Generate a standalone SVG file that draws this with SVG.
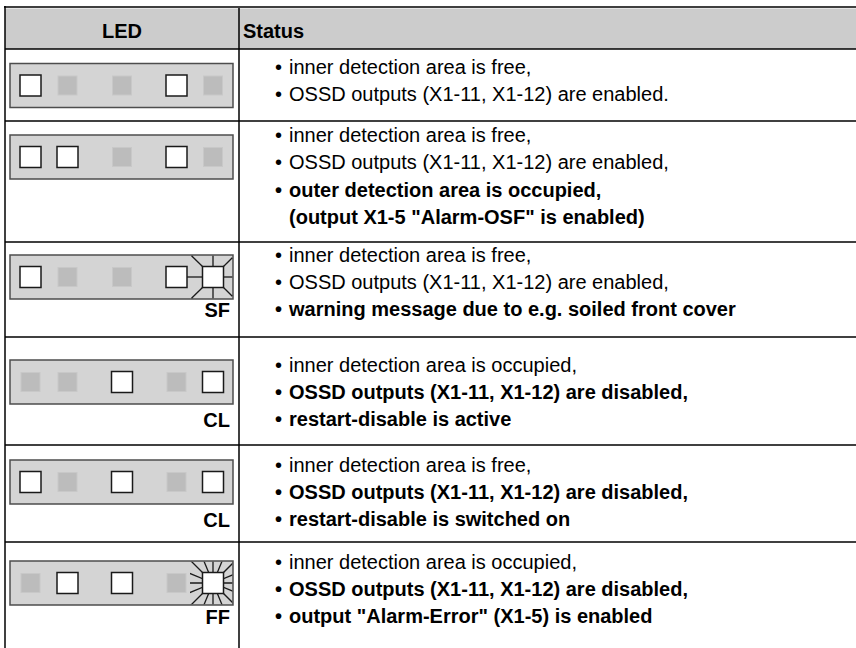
<svg xmlns="http://www.w3.org/2000/svg" xmlns:xlink="http://www.w3.org/1999/xlink" width="856" height="648" viewBox="0 0 856 648">
<style>
.t{font-family:"Liberation Sans",Arial,Helvetica,sans-serif;font-size:20px;fill:#000}
.b{font-weight:bold}
.h{font-family:"Liberation Sans",Arial,Helvetica,sans-serif;font-size:20px;font-weight:bold;fill:#000}
.lbl{font-family:"Liberation Sans",Arial,Helvetica,sans-serif;font-size:20px;font-weight:bold;fill:#000;text-anchor:end}
.bar{fill:#d4d4d4;stroke:#4d4d4d;stroke-width:1.5}
.on{fill:#fff;stroke:#1a1a1a;stroke-width:1.5}
.off{fill:#bcbcbc;stroke:#c8c8c8;stroke-width:1}
.ray{stroke:#1a1a1a;stroke-width:1.3;fill:none}
.grid{stroke:#000;stroke-width:1.5;fill:none}
</style>
<defs>
<rect id="on" x="-10.5" y="-10.5" width="21" height="21" class="on"/>
<rect id="off" x="-9.5" y="-9.5" width="19" height="19" class="off"/>
<clipPath id="ffclip" clipPathUnits="userSpaceOnUse"><rect x="-23" y="-21.3" width="42.3" height="42.6"/></clipPath>
</defs>

<g id="table">
<rect x="5" y="8.5" width="851" height="40.5" fill="#cccccc"/>
<line class="grid" x1="4" y1="7" x2="856" y2="7" stroke-width="3"/>
<line class="grid" x1="5" y1="6" x2="5" y2="648" stroke-width="2"/>
<line class="grid" x1="239" y1="8" x2="239" y2="648"/>
<line class="grid" x1="5" y1="49" x2="856" y2="49"/>
<line class="grid" x1="5" y1="121" x2="856" y2="121"/>
<line class="grid" x1="5" y1="242" x2="856" y2="242"/>
<line class="grid" x1="5" y1="337" x2="856" y2="337"/>
<line class="grid" x1="5" y1="445" x2="856" y2="445"/>
<line class="grid" x1="5" y1="542" x2="856" y2="542"/>
<text class="h" x="122" y="38" text-anchor="middle">LED</text>
<text class="h" x="243" y="38">Status</text>
</g>

<g id="row1">
<rect class="bar" x="10" y="63.5" width="223" height="44"/>
<use xlink:href="#on" x="30.5" y="85.5"/><use xlink:href="#off" x="67.5" y="85.5"/><use xlink:href="#off" x="122" y="85.5"/><use xlink:href="#on" x="176.5" y="85.5"/><use xlink:href="#off" x="213" y="85.5"/>
<text class="t" y="74"><tspan x="275">•</tspan><tspan x="289">inner detection area is free,</tspan></text>
<text class="t" y="101"><tspan x="275">•</tspan><tspan x="289">OSSD outputs (X1-11, X1-12) are enabled.</tspan></text>
</g>

<g id="row2">
<rect class="bar" x="10" y="135" width="223" height="44"/>
<use xlink:href="#on" x="30.5" y="157"/><use xlink:href="#on" x="67.5" y="157"/><use xlink:href="#off" x="122" y="157"/><use xlink:href="#on" x="176.5" y="157"/><use xlink:href="#off" x="213" y="157"/>
<text class="t" y="142"><tspan x="275">•</tspan><tspan x="289">inner detection area is free,</tspan></text>
<text class="t" y="169"><tspan x="275">•</tspan><tspan x="289">OSSD outputs (X1-11, X1-12) are enabled,</tspan></text>
<text class="t b" y="197"><tspan x="275">•</tspan><tspan x="289">outer detection area is occupied,</tspan></text>
<text class="t b" y="224" x="289">(output X1-5 "Alarm-OSF" is enabled)</text>
</g>

<g id="row3">
<rect class="bar" x="10" y="255" width="223" height="44"/>
<g class="ray">
<line x1="187" y1="277" x2="203" y2="277"/>
<line x1="223" y1="277" x2="232.3" y2="277"/>
<line x1="213" y1="255.7" x2="213" y2="267"/>
<line x1="213" y1="287" x2="213" y2="298.3"/>
<line x1="202.5" y1="266.5" x2="191.5" y2="255.7"/>
<line x1="223.5" y1="266.5" x2="232.3" y2="257.7"/>
<line x1="202.5" y1="287.5" x2="191.5" y2="298.3"/>
<line x1="223.5" y1="287.5" x2="232.3" y2="296.3"/>
</g>
<use xlink:href="#on" x="30.5" y="277"/><use xlink:href="#off" x="67.5" y="277"/><use xlink:href="#off" x="122" y="277"/><use xlink:href="#on" x="176.5" y="277"/><use xlink:href="#on" x="213" y="277"/>
<text class="lbl" x="230" y="317">SF</text>
<text class="t" y="262"><tspan x="275">•</tspan><tspan x="289">inner detection area is free,</tspan></text>
<text class="t" y="289"><tspan x="275">•</tspan><tspan x="289">OSSD outputs (X1-11, X1-12) are enabled,</tspan></text>
<text class="t b" y="316"><tspan x="275">•</tspan><tspan x="289">warning message due to e.g. soiled front cover</tspan></text>
</g>

<g id="row4">
<rect class="bar" x="10" y="360" width="223" height="44"/>
<use xlink:href="#off" x="30.5" y="382"/><use xlink:href="#off" x="67.5" y="382"/><use xlink:href="#on" x="122" y="382"/><use xlink:href="#off" x="176.5" y="382"/><use xlink:href="#on" x="213" y="382"/>
<text class="lbl" x="230" y="427">CL</text>
<text class="t" y="372"><tspan x="275">•</tspan><tspan x="289">inner detection area is occupied,</tspan></text>
<text class="t b" y="399"><tspan x="275">•</tspan><tspan x="289">OSSD outputs (X1-11, X1-12) are disabled,</tspan></text>
<text class="t b" y="426"><tspan x="275">•</tspan><tspan x="289">restart-disable is active</tspan></text>
</g>

<g id="row5">
<rect class="bar" x="10" y="460" width="223" height="44"/>
<use xlink:href="#on" x="30.5" y="482"/><use xlink:href="#off" x="67.5" y="482"/><use xlink:href="#on" x="122" y="482"/><use xlink:href="#off" x="176.5" y="482"/><use xlink:href="#on" x="213" y="482"/>
<text class="lbl" x="230" y="527">CL</text>
<text class="t" y="472"><tspan x="275">•</tspan><tspan x="289">inner detection area is free,</tspan></text>
<text class="t b" y="499"><tspan x="275">•</tspan><tspan x="289">OSSD outputs (X1-11, X1-12) are disabled,</tspan></text>
<text class="t b" y="526"><tspan x="275">•</tspan><tspan x="289">restart-disable is switched on</tspan></text>
</g>

<g id="row6">
<rect class="bar" x="10" y="561" width="223" height="44"/>
<g class="ray" transform="translate(213 583)" clip-path="url(#ffclip)">
<line x1="0" y1="0" x2="40" y2="0"/><line x1="0" y1="0" x2="36.96" y2="15.31"/><line x1="0" y1="0" x2="28.28" y2="28.28"/><line x1="0" y1="0" x2="15.31" y2="36.96"/>
<line x1="0" y1="0" x2="0" y2="40"/><line x1="0" y1="0" x2="-15.31" y2="36.96"/><line x1="0" y1="0" x2="-28.28" y2="28.28"/><line x1="0" y1="0" x2="-36.96" y2="15.31"/>
<line x1="0" y1="0" x2="-40" y2="0"/><line x1="0" y1="0" x2="-36.96" y2="-15.31"/><line x1="0" y1="0" x2="-28.28" y2="-28.28"/><line x1="0" y1="0" x2="-15.31" y2="-36.96"/>
<line x1="0" y1="0" x2="0" y2="-40"/><line x1="0" y1="0" x2="15.31" y2="-36.96"/><line x1="0" y1="0" x2="28.28" y2="-28.28"/><line x1="0" y1="0" x2="36.96" y2="-15.31"/>
</g>
<use xlink:href="#off" x="30.5" y="583"/><use xlink:href="#on" x="67.5" y="583"/><use xlink:href="#on" x="122" y="583"/><use xlink:href="#off" x="176.5" y="583"/><use xlink:href="#on" x="213" y="583"/>
<text class="lbl" x="230" y="624">FF</text>
<text class="t" y="569"><tspan x="275">•</tspan><tspan x="289">inner detection area is occupied,</tspan></text>
<text class="t b" y="596"><tspan x="275">•</tspan><tspan x="289">OSSD outputs (X1-11, X1-12) are disabled,</tspan></text>
<text class="t b" y="623"><tspan x="275">•</tspan><tspan x="289">output "Alarm-Error" (X1-5) is enabled</tspan></text>
</g>
</svg>
